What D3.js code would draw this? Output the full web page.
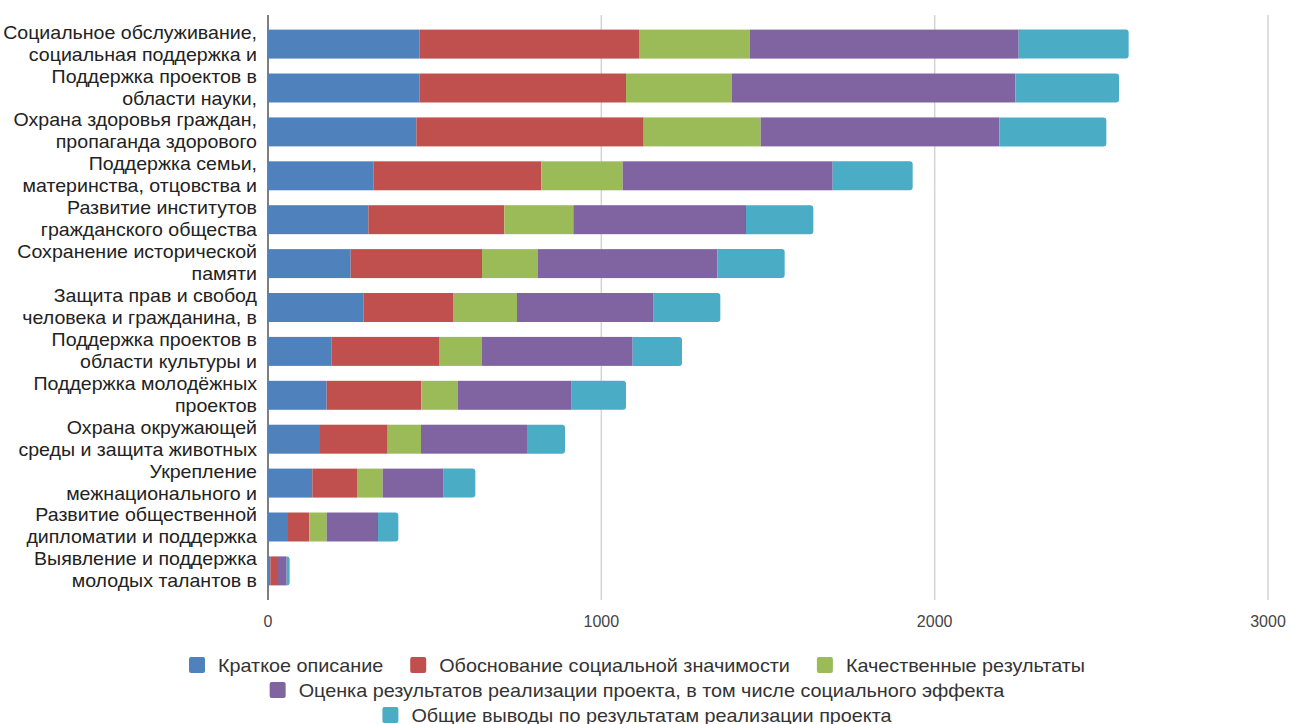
<!DOCTYPE html>
<html>
<head>
<meta charset="utf-8">
<script src="https://cdn.jsdelivr.net/npm/d3@7"></script>
<style>
  html, body { margin: 0; padding: 0; background: #fff; }
  svg { display: block; }
  text { font-family: "Liberation Sans", Arial, sans-serif; }
</style>
</head>
<body>
<svg id="chart" width="1290" height="724"></svg>
<script>
const categories = [
  ["Социальное обслуживание,", "социальная поддержка и"],
  ["Поддержка проектов в", "области науки,"],
  ["Охрана здоровья граждан,", "пропаганда здорового"],
  ["Поддержка семьи,", "материнства, отцовства и"],
  ["Развитие институтов", "гражданского общества"],
  ["Сохранение исторической", "памяти"],
  ["Защита прав и свобод", "человека и гражданина, в"],
  ["Поддержка проектов в", "области культуры и"],
  ["Поддержка молодёжных", "проектов"],
  ["Охрана окружающей", "среды и защита животных"],
  ["Укрепление", "межнационального и"],
  ["Развитие общественной", "дипломатии и поддержка"],
  ["Выявление и поддержка", "молодых талантов в"]
];
const seriesNames = [
  "Краткое описание",
  "Обоснование социальной значимости",
  "Качественные результаты",
  "Оценка результатов реализации проекта, в том числе социального эффекта",
  "Общие выводы по результатам реализации проекта"
];
const briefDescription   = [455, 455, 445, 316, 301, 248, 287, 191, 176, 156, 133, 60, 7];
const socialSignificance = [658, 619, 682, 504, 408, 394, 268, 322, 284, 203, 134, 64, 20];
const qualitativeResults = [332, 317, 351, 244, 207, 168, 192, 129, 110, 100, 77, 52, 0];
const resultsEvaluation  = [807, 851, 716, 630, 518, 538, 410, 452, 341, 318, 183, 154, 29];
const generalConclusions = [330, 311, 321, 240, 202, 202, 200, 148, 163, 114, 95, 61, 9];
const xTicks = [0, 1000, 2000, 3000];
const colors = ["#4f81bd", "#c0504d", "#9bbb59", "#8064a2", "#4bacc6"];

const seriesValues = [briefDescription, socialSignificance, qualitativeResults, resultsEvaluation, generalConclusions];
const keys = categories.map(c => c.join(" "));
const table = keys.map((k, i) => {
  const row = { key: k };
  seriesNames.forEach((s, j) => row[s] = seriesValues[j][i]);
  return row;
});

const svg = d3.select("#chart");
const x = d3.scaleLinear().domain([0, 3000]).range([268, 1268]);
const y = d3.scaleBand().domain(keys).range([15, 600]).paddingInner(0.34).paddingOuter(0.333);

// gridlines
svg.append("g").selectAll("line").data(xTicks.filter(t => t > 0)).join("line")
  .attr("x1", d => x(d)).attr("x2", d => x(d))
  .attr("y1", 15).attr("y2", 600)
  .attr("stroke", "#d4d4d4").attr("stroke-width", 1.5);

// axis line
svg.append("line").attr("x1", x(0)).attr("x2", x(0)).attr("y1", 15).attr("y2", 600)
  .attr("stroke", "#555").attr("stroke-width", 1.5);

// stacks
const stack = d3.stack().keys(seriesNames)(table);
const r = 3;
stack.forEach((layer, li) => {
  const g = svg.append("g").attr("fill", colors[li]);
  layer.forEach((d, i) => {
    const x0 = x(d[0]), x1 = x(d[1]);
    const w = x1 - x0;
    if (w <= 0) return;
    const top = y(d.data.key), h = y.bandwidth();
    if (li === stack.length - 1) {
      const rr = Math.min(r, w);
      g.append("path").attr("d",
        `M${x0},${top}H${x1 - rr}Q${x1},${top} ${x1},${top + rr}V${top + h - rr}Q${x1},${top + h} ${x1 - rr},${top + h}H${x0}Z`);
    } else {
      g.append("rect").attr("x", x0).attr("y", top).attr("width", w).attr("height", h);
    }
  });
});

// category labels
const labScale = 1.07;
const lab = svg.append("g").attr("font-size", 18.3).attr("fill", "#222").attr("text-anchor", "end");
categories.forEach((c, i) => {
  const cy = y(keys[i]) + y.bandwidth() / 2;
  lab.append("text").attr("transform", `translate(257,${cy - 5.5}) scale(${labScale},1)`).text(c[0]);
  lab.append("text").attr("transform", `translate(257,${cy + 16.5}) scale(${labScale},1)`).text(c[1]);
});

// x tick labels
svg.append("g").attr("font-size", 16).attr("fill", "#444").attr("text-anchor", "middle")
  .selectAll("text").data(xTicks).join("text")
  .attr("x", d => x(d)).attr("y", 627).text(d => d);

// legend
const rows = [[0, 1, 2], [3], [4]];
const rowY = [665, 690, 715];
const legScale = 1.1;
const legend = svg.append("g").attr("font-size", 18).attr("fill", "#333");
const sq = 16, gapText = 13, gapItem = 27, cx = 637;
rows.forEach((row, ri) => {
  const g = legend.append("g");
  let cur = 0;
  row.forEach(si => {
    g.append("rect").attr("x", cur).attr("y", rowY[ri] - sq / 2).attr("width", sq).attr("height", sq)
      .attr("rx", 2).attr("fill", colors[si]);
    const t = g.append("text")
      .attr("transform", `translate(${cur + sq + gapText},${rowY[ri] + 6.5}) scale(${legScale},1)`)
      .text(seriesNames[si]);
    cur += sq + gapText + t.node().getComputedTextLength() * legScale + gapItem;
  });
  const total = cur - gapItem;
  g.attr("transform", `translate(${cx - total / 2},0)`);
});
</script>
</body>
</html>
